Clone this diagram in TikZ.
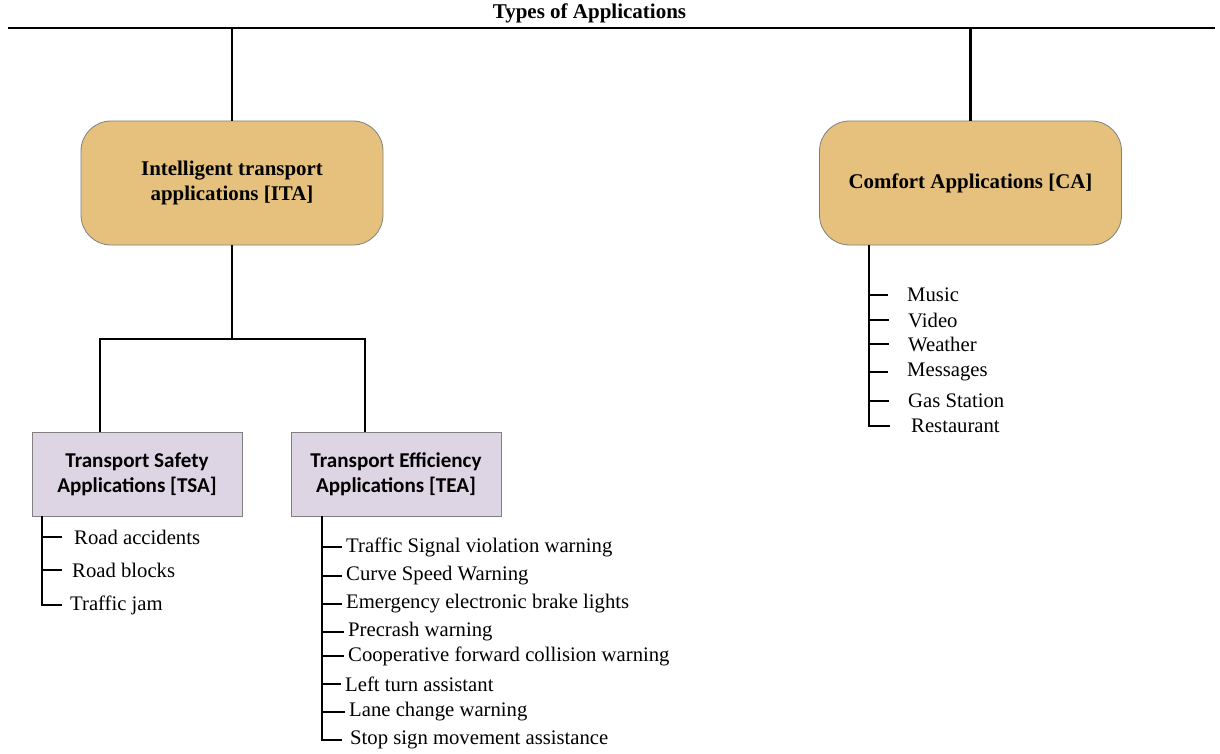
\documentclass[tikz,border=0pt]{standalone}
\usepackage{fontspec}
\setmainfont{Liberation Serif}
\newfontfamily\tnr{Liberation Serif}
\newfontfamily\calib{Carlito}
\definecolor{tanfill}{HTML}{E5C17D}
\definecolor{lavfill}{HTML}{DDD5E4}
\definecolor{boxline}{HTML}{808080}
\begin{document}
\begin{tikzpicture}[x=1pt,y=-1pt,
  conn/.style={line width=2.4pt},
  bigbox/.style={draw=boxline, line width=0.8pt, fill=tanfill, rounded corners=30pt,
     minimum width=302pt, minimum height=124pt, align=center,
     font=\tnr\fontsize{20.9}{25}\selectfont\bfseries},
  subbox/.style={draw=boxline, line width=0.8pt, fill=lavfill,
     minimum width=210pt, minimum height=84pt, align=center,
     font=\calib\fontsize{21.1}{25}\selectfont\bfseries},
  item/.style={anchor=west, inner ysep=0pt, font=\tnr\fontsize{20.7}{22}\selectfont}
]
\path[use as bounding box] (0,0) rectangle (1220,754);

% title and top rail
\node[font=\tnr\fontsize{21}{22}\selectfont\bfseries] (title) at (589.5,13) {Types of Applications};
\coordinate (railL) at (8,28);
\coordinate (railR) at (1215,28);
\draw[conn] (railL) -- (railR);

% main boxes
\node[bigbox] (ita) at (232,183) {Intelligent transport\\applications [ITA]};
\node[bigbox] (ca) at (970.5,183) {Comfort Applications [CA]};
\draw[conn] (ita.north |- railL) -- (ita.north);
\draw[conn] (ca.north |- railL) -- (ca.north);

% sub boxes
\node[subbox] (tsa) at (137,474) {Transport Safety\\Applications [TSA]};
\node[subbox] (tea) at (396,474) {Transport Efficiency\\Applications [TEA]};
\coordinate (split) at (232,339);
\coordinate (tsaIn) at (100,432);
\coordinate (teaIn) at (365,432);
\draw[conn] (ita.south) -- (split);
\draw[conn] (tsaIn) |- (split) -| (teaIn);

% TSA list
\begin{scope}[every node/.append style={inner xsep=0pt}]
\node[item] (s1) at (74,537) {Road accidents};
\node[item] (s2) at (72,570) {Road blocks};
\node[item] (s3) at (70,605) {Traffic jam};
\end{scope}
\coordinate (tsaTop) at (42,516);
\draw[conn] (tsaTop) |- ([xshift=-8pt]s3.west);
\draw[conn] (tsaTop |- s1.west) -- ([xshift=-12pt]s1.west);
\draw[conn] (tsaTop |- s2.west) -- ([xshift=-10pt]s2.west);

% TEA list
\begin{scope}[every node/.append style={inner xsep=0pt}]
\node[item] (e1) at (346,547) {Traffic Signal violation warning};
\node[item] (e2) at (346,576) {Curve Speed Warning};
\node[item] (e3) at (346,604) {Emergency electronic brake lights};
\node[item] (e4) at (348,632) {Precrash warning};
\node[item] (e5) at (348,656) {Cooperative forward collision warning};
\node[item] (e6) at (345,684) {Left turn assistant};
\node[item] (e7) at (349,712) {Lane change warning};
\node[item] (e8) at (350,740) {Stop sign movement assistance};
\end{scope}
\coordinate (teaTop) at (322,516);
\draw[conn] (teaTop) |- ([xshift=-8pt]e8.west);
\foreach \n in {e1,e2,e3,e4,e5,e6,e7}
  \draw[conn] (teaTop |- \n.west) -- ([xshift=-4pt]\n.west);

% CA list
\begin{scope}[every node/.append style={inner xsep=0pt}]
\node[item] (c1) at (907,295) {Music};
\node[item] (c2) at (908,320) {Video};
\node[item] (c3) at (908,344) {Weather};
\node[item] (c4) at (907,372) {Messages};
\node[item] (c5) at (908,401) {Gas Station};
\node[item] (c6) at (911,426) {Restaurant};
\end{scope}
\coordinate (caTop) at (869,245);
\draw[conn] (caTop) |- ([xshift=-21pt]c6.west);
\foreach \n in {c1,c2,c3,c4,c5}
  \draw[conn] (caTop |- \n.west) -- ([xshift=-19pt]\n.west);
\end{tikzpicture}
\end{document}
